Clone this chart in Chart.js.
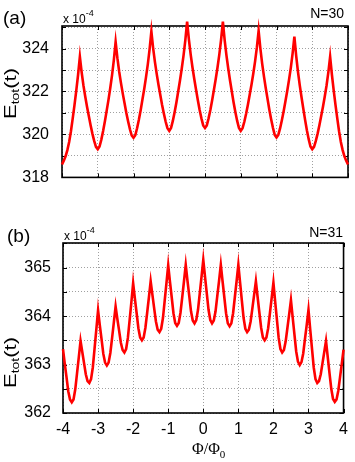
<!DOCTYPE html>
<html>
<head>
<meta charset="utf-8">
<script src="https://cdn.jsdelivr.net/npm/chart.js@4/dist/chart.umd.min.js"></script>
<style>
  body { margin: 0; background: #fff; }
  #wrap { position: relative; width: 355px; height: 462px; overflow: hidden; font-family: 'Liberation Sans', Arial, sans-serif; }
  .panel { position: absolute; left: 0; }
  .txt { position: absolute; color: #000; white-space: nowrap; line-height: 1; }
  .tag { font-size: 19px; }
  .exp { font-size: 12px; }
  .exp sup { font-size: 9px; position: relative; top: -2px; }
  .nlab { font-size: 14px; }
  .ylab { font-size: 22px; transform-origin: 0 0; }
  .ylab sub { font-size: 14px; vertical-align: -4px; }
  .xlab { font-family: 'Liberation Serif', serif; font-size: 16px; }
  .xlab sub { font-size: 11px; vertical-align: -4px; }
</style>
</head>
<body>
<div id="wrap">
  <div class="panel" style="top:0;"><canvas id="chartA" width="355" height="200"></canvas></div>
  <div class="panel" style="top:200px;"><canvas id="chartB" width="355" height="262"></canvas></div>

  <div class="txt tag" style="left:3px; top:8px;">(a)</div>
  <div class="txt exp" style="left:63px; top:11px;">x 10<sup>-4</sup></div>
  <div class="txt nlab" style="right:11px; top:6px;">N=30</div>
  <div class="txt ylab" style="left:3px; top:119px; transform: rotate(-90deg) scaleY(0.72);">E<sub>tot</sub>(t)</div>

  <div class="txt tag" style="left:7px; top:226px;">(b)</div>
  <div class="txt exp" style="left:64px; top:228px;">x 10<sup>-4</sup></div>
  <div class="txt nlab" style="right:12px; top:225px;">N=31</div>
  <div class="txt ylab" style="left:3px; top:388px; transform: rotate(-90deg) scaleY(0.72);">E<sub>tot</sub>(t)</div>

  <div class="txt xlab" style="left:192px; top:441px;">&Phi;/&Phi;<sub>0</sub></div>
</div>

<script>
// flux Phi/Phi0, shared sample points for both panels
const phi = [-4, -3.95, -3.9, -3.85, -3.8, -3.75, -3.7, -3.65, -3.6, -3.55,
  -3.5, -3.45, -3.4, -3.35, -3.3, -3.25, -3.2, -3.15, -3.1, -3.05,
  -3, -2.95, -2.9, -2.85, -2.8, -2.75, -2.7, -2.65, -2.6, -2.55,
  -2.5, -2.45, -2.4, -2.35, -2.3, -2.25, -2.2, -2.15, -2.1, -2.05,
  -2, -1.95, -1.9, -1.85, -1.8, -1.75, -1.7, -1.65, -1.6, -1.55,
  -1.5, -1.45, -1.4, -1.35, -1.3, -1.25, -1.2, -1.15, -1.1, -1.05,
  -1, -0.95, -0.9, -0.85, -0.8, -0.75, -0.7, -0.65, -0.6, -0.55,
  -0.5, -0.45, -0.4, -0.35, -0.3, -0.25, -0.2, -0.15, -0.1, -0.05,
  0, 0.05, 0.1, 0.15, 0.2, 0.25, 0.3, 0.35, 0.4, 0.45,
  0.5, 0.55, 0.6, 0.65, 0.7, 0.75, 0.8, 0.85, 0.9, 0.95,
  1, 1.05, 1.1, 1.15, 1.2, 1.25, 1.3, 1.35, 1.4, 1.45,
  1.5, 1.55, 1.6, 1.65, 1.7, 1.75, 1.8, 1.85, 1.9, 1.95,
  2, 2.05, 2.1, 2.15, 2.2, 2.25, 2.3, 2.35, 2.4, 2.45,
  2.5, 2.55, 2.6, 2.65, 2.7, 2.75, 2.8, 2.85, 2.9, 2.95,
  3, 3.05, 3.1, 3.15, 3.2, 3.25, 3.3, 3.35, 3.4, 3.45,
  3.5, 3.55, 3.6, 3.65, 3.7, 3.75, 3.8, 3.85, 3.9, 3.95, 4];

// panel (a), N=30 -- E_tot in units of 1e-4
const eN30 = [318.60, 318.78, 318.98, 319.27, 319.65, 320.15, 320.75, 321.38, 322.05, 322.78,
  323.62, 322.89, 322.28, 321.77, 321.29, 320.86, 320.43, 320.04, 319.70, 319.42,
  319.31, 319.44, 319.76, 320.16, 320.61, 321.11, 321.61, 322.16, 322.76, 323.46,
  324.31, 323.55, 322.92, 322.39, 321.90, 321.45, 321.00, 320.60, 320.24, 319.95,
  319.84, 319.96, 320.29, 320.68, 321.13, 321.63, 322.12, 322.67, 323.26, 323.96,
  324.80, 324.01, 323.37, 322.81, 322.30, 321.84, 321.37, 320.96, 320.59, 320.29,
  320.17, 320.30, 320.63, 321.03, 321.49, 322.00, 322.51, 323.07, 323.68, 324.39,
  325.25, 324.41, 323.72, 323.12, 322.58, 322.08, 321.59, 321.14, 320.75, 320.42,
  320.30, 320.42, 320.75, 321.14, 321.59, 322.08, 322.58, 323.12, 323.72, 324.41,
  325.25, 324.39, 323.68, 323.07, 322.51, 322.00, 321.49, 321.03, 320.63, 320.30,
  320.17, 320.29, 320.59, 320.96, 321.38, 321.85, 322.31, 322.83, 323.39, 324.04,
  324.83, 323.99, 323.29, 322.69, 322.15, 321.65, 321.15, 320.71, 320.31, 319.98,
  319.86, 319.98, 320.28, 320.66, 321.08, 321.55, 322.02, 322.54, 323.10, 323.76,
  324.56, 323.67, 322.93, 322.30, 321.73, 321.20, 320.68, 320.20, 319.78, 319.44,
  319.31, 319.42, 319.70, 320.04, 320.43, 320.86, 321.29, 321.77, 322.28, 322.89,
  323.62, 322.78, 322.05, 321.38, 320.75, 320.15, 319.65, 319.27, 318.98, 318.78, 318.60];

// panel (b), N=31
const eN31 = [363.32, 363.02, 362.74, 362.45, 362.28, 362.22, 362.28, 362.49, 362.82, 363.15,
  363.49, 363.26, 363.03, 362.80, 362.66, 362.62, 362.70, 362.94, 363.33, 363.72,
  364.12, 363.81, 363.52, 363.22, 363.04, 362.98, 363.04, 363.24, 363.55, 363.87,
  364.20, 363.94, 363.70, 363.45, 363.30, 363.25, 363.32, 363.55, 363.92, 364.29,
  364.68, 364.36, 364.06, 363.75, 363.56, 363.50, 363.56, 363.76, 364.07, 364.39,
  364.72, 364.44, 364.16, 363.89, 363.72, 363.67, 363.74, 363.96, 364.32, 364.68,
  365.05, 364.71, 364.39, 364.06, 363.86, 363.80, 363.86, 364.07, 364.39, 364.72,
  365.06, 364.73, 364.42, 364.10, 363.91, 363.85, 363.92, 364.13, 364.47, 364.81,
  365.16, 364.81, 364.47, 364.13, 363.92, 363.85, 363.91, 364.10, 364.42, 364.73,
  365.06, 364.72, 364.39, 364.06, 363.85, 363.79, 363.85, 364.06, 364.39, 364.72,
  365.06, 364.69, 364.32, 363.96, 363.74, 363.67, 363.72, 363.89, 364.16, 364.44,
  364.72, 364.39, 364.07, 363.76, 363.56, 363.50, 363.56, 363.75, 364.06, 364.37,
  364.69, 364.30, 363.93, 363.55, 363.32, 363.25, 363.30, 363.48, 363.76, 364.04,
  364.33, 363.97, 363.62, 363.27, 363.06, 362.99, 363.05, 363.23, 363.53, 363.82,
  364.13, 363.72, 363.33, 362.94, 362.70, 362.62, 362.66, 362.80, 363.03, 363.26,
  363.49, 363.15, 362.82, 362.50, 362.29, 362.23, 362.28, 362.46, 362.74, 363.02, 363.31];

// axis ranges / ticks
const xRange = [-4, 4];
const yRangeA = [318, 325.05];
const yRangeB = [362, 365.51];

const tickFont = { family: "'Liberation Sans Narrow', 'Liberation Sans', Arial, sans-serif", size: 16 };

// black box with inward tick marks, drawn under the curve
const framePlugin = {
    id: 'frame',
    beforeDatasetsDraw(chart) {
        const { ctx, chartArea: a, scales } = chart;
        ctx.save();
        ctx.strokeStyle = '#000';
        ctx.lineWidth = 1;
        ctx.beginPath();
        scales.x.ticks.forEach(t => {
            const px = Math.round(scales.x.getPixelForValue(t.value)) + 0.5;
            ctx.moveTo(px, a.bottom); ctx.lineTo(px, a.bottom - 4);
            ctx.moveTo(px, a.top); ctx.lineTo(px, a.top + 4);
        });
        scales.y.ticks.forEach(t => {
            const py = Math.round(scales.y.getPixelForValue(t.value)) + 0.5;
            ctx.moveTo(a.left, py); ctx.lineTo(a.left + 4, py);
            ctx.moveTo(a.right, py); ctx.lineTo(a.right - 4, py);
        });
        ctx.stroke();
        ctx.lineWidth = 1.6;
        ctx.strokeRect(a.left, a.top, a.right - a.left, a.bottom - a.top);
        ctx.restore();
    }
};

function makePanel(id, xs, ys, yRange, ySteps, opts) {
    const points = xs.map((x, i) => ({ x: x, y: ys[i] }));
    return new Chart(document.getElementById(id), {
        type: 'line',
        data: {
            datasets: [{
                data: points,
                borderColor: '#ff0000',
                borderWidth: 2.6,
                pointRadius: 0,
                tension: 0,
                fill: false,
                clip: false
            }]
        },
        options: {
            responsive: false,
            animation: false,
            events: [],
            layout: { padding: opts.padding },
            plugins: { legend: { display: false }, tooltip: { enabled: false } },
            scales: {
                x: {
                    type: 'linear',
                    min: xRange[0],
                    max: xRange[1],
                    ticks: {
                        stepSize: 1,
                        display: opts.showX,
                        color: '#000',
                        font: tickFont,
                        padding: 7,
                        maxRotation: 0,
                        callback: v => String(v)
                    },
                    grid: { color: '#a0a0a0', lineWidth: 1, drawTicks: false },
                    border: { display: false, dash: [1, 2] },
                    afterFit: s => { s.height = opts.xHeight; }
                },
                y: {
                    min: yRange[0],
                    max: yRange[1],
                    ticks: {
                        stepSize: ySteps,
                        includeBounds: false,
                        color: '#000',
                        font: tickFont,
                        padding: opts.yPad,
                        callback: v => (Math.abs(v - Math.round(v / opts.labelEvery) * opts.labelEvery) < 1e-6 ? String(Math.round(v)) : '')
                    },
                    grid: { color: '#a0a0a0', lineWidth: 1, drawTicks: false },
                    border: { display: false, dash: [1, 2] },
                    afterFit: s => { s.width = opts.yWidth; }
                }
            }
        },
        plugins: [framePlugin]
    });
}

makePanel('chartA', phi, eN30, yRangeA, 1, {
    padding: { top: 26, right: 7, bottom: 7, left: 0 },
    showX: false, xHeight: 0, yWidth: 62, yPad: 13, labelEvery: 2
});

makePanel('chartB', phi, eN31, yRangeB, 0.5, {
    padding: { top: 43, right: 7, bottom: 0, left: 0 },
    showX: true, xHeight: 49, yWidth: 63, yPad: 12, labelEvery: 1
});
</script>
</body>
</html>
